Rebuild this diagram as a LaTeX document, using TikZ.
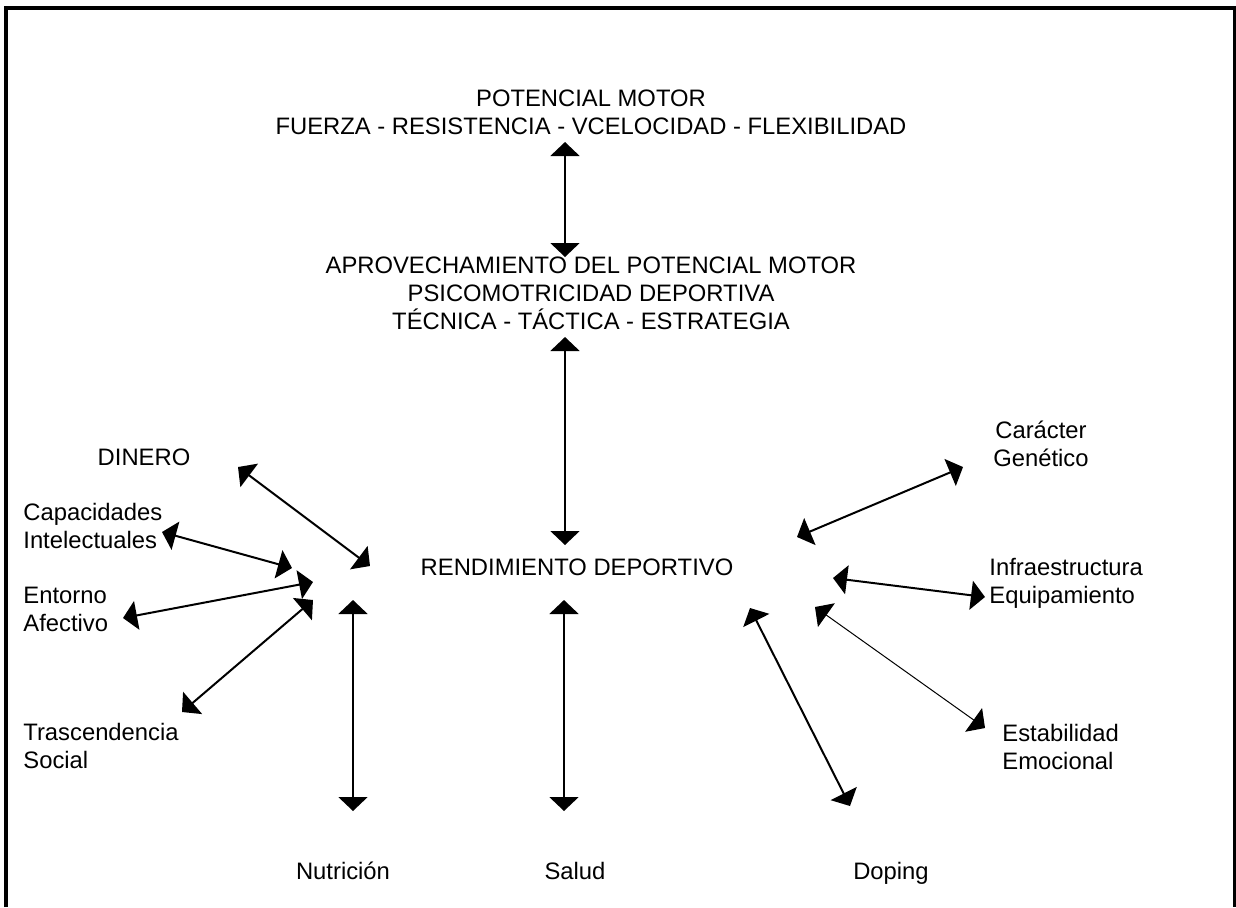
\documentclass[tikz,border=0pt]{standalone}
\usepackage{fontspec}
\setmainfont{Liberation Sans}
\usetikzlibrary{arrows.meta}

\begin{document}
\begin{tikzpicture}[
  x=0.5pt, y=-0.5pt,
  lbl/.style={inner sep=0pt, align=center, font=\fontsize{11.9}{14}\selectfont},
  lblleft/.style={lbl, align=left, anchor=west},
  link/.style={{Triangle[length=7pt, width=14.5pt]}-{Triangle[length=7pt, width=14.5pt]}, line width=1pt},
  thinlink/.style={link, line width=0.5pt}
]
  \useasboundingbox (0,0) rectangle (1236,907);
  % open frame
  \draw[line width=2pt] (6,907) -- (6,8) -- (1234.5,8) -- (1234.5,907);

  \node[lbl] (potencial) at (591,112.5) {POTENCIAL MOTOR\\FUERZA - RESISTENCIA - VCELOCIDAD - FLEXIBILIDAD};
  \node[lbl] (aprov) at (591,293) {APROVECHAMIENTO DEL POTENCIAL MOTOR\\PSICOMOTRICIDAD DEPORTIVA\\TÉCNICA - TÁCTICA - ESTRATEGIA};
  \node[lbl] (rend) at (577,567) {RENDIMIENTO DEPORTIVO};

  \node[lbl] (dinero) at (144,457) {DINERO};
  \node[lblleft] (capac) at (23,525.5) {Capacidades\\Intelectuales};
  \node[lblleft] (entorno) at (23,609) {Entorno\\Afectivo};
  \node[lblleft] (trasc) at (23,746) {Trascendencia\\Social};

  \node[lbl] (caracter) at (1041,444) {Carácter\\Genético};
  \node[lblleft] (infra) at (989,583.5) {Infraestructura\\Equipamiento};
  \node[lblleft] (estab) at (1002,747) {Estabilidad\\Emocional};

  \node[lbl] (nutri) at (343,871) {Nutrición};
  \node[lbl] (salud) at (575,871) {Salud};
  \node[lbl] (doping) at (891,873) {Doping};

  % arrow ends
  \coordinate (potencial-s) at (565,142);
  \coordinate (aprov-n) at (565,257);
  \coordinate (aprov-s) at (565,337);
  \coordinate (rend-n) at (565,545);
  \coordinate (rend-s) at (564,600);
  \coordinate (salud-n) at (564,811);
  \coordinate (nutri-a) at (353,600);
  \coordinate (nutri-b) at (353,811);
  \coordinate (dinero-a) at (238,467);
  \coordinate (dinero-b) at (370,566);
  \coordinate (capac-a) at (162,532);
  \coordinate (capac-b) at (292,568);
  \coordinate (entorno-a) at (123,618);
  \coordinate (entorno-b) at (313,582);
  \coordinate (trasc-a) at (182,712);
  \coordinate (trasc-b) at (313,600);
  \coordinate (caracter-a) at (963,467);
  \coordinate (caracter-b) at (797,537);
  \coordinate (infra-a) at (833,578);
  \coordinate (infra-b) at (985,597);
  \coordinate (estab-a) at (815,607);
  \coordinate (estab-b) at (985,728);
  \coordinate (doping-a) at (750,608);
  \coordinate (doping-b) at (850,806);

  \draw[link] (potencial-s) -- (aprov-n);
  \draw[link] (aprov-s) -- (rend-n);
  \draw[link] (rend-s) -- (salud-n);
  \draw[link] (nutri-a) -- (nutri-b);
  \draw[link] (dinero-a) -- (dinero-b);
  \draw[link] (capac-a) -- (capac-b);
  \draw[link] (entorno-a) -- (entorno-b);
  \draw[link] (trasc-a) -- (trasc-b);
  \draw[link] (caracter-a) -- (caracter-b);
  \draw[link] (infra-a) -- (infra-b);
  \draw[thinlink] (estab-a) -- (estab-b);
  \draw[link] (doping-a) -- (doping-b);
\end{tikzpicture}
\end{document}
